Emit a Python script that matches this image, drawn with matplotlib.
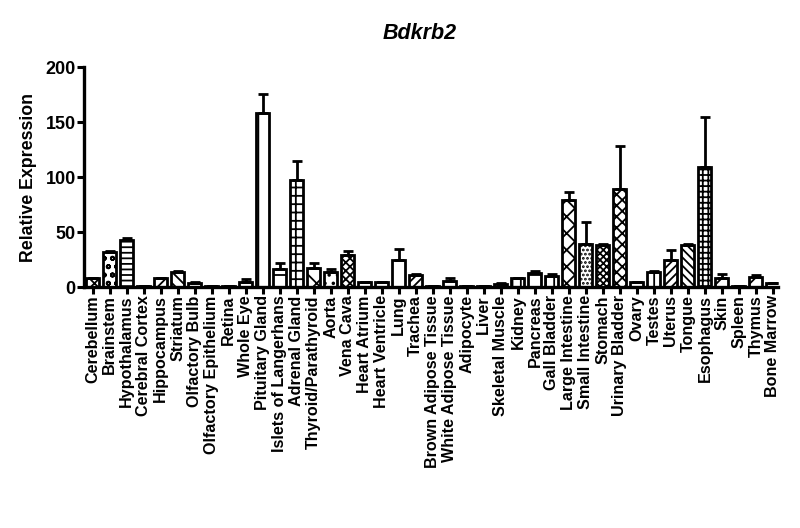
import matplotlib
matplotlib.use("Agg")
import matplotlib.pyplot as plt
import numpy as np

categories = ["Cerebellum", "Brainstem", "Hypothalamus", "Cerebral Cortex", "Hippocampus",
              "Striatum", "Olfactory Bulb", "Olfactory Epithelium", "Retina", "Whole Eye",
              "Pituitary Gland", "Islets of Langerhans", "Adrenal Gland", "Thyroid/Parathyroid",
              "Aorta", "Vena Cava", "Heart Atrium", "Heart Ventricle", "Lung", "Trachea",
              "Brown Adipose Tissue", "White Adipose Tissue", "Adipocyte", "Liver",
              "Skeletal Muscle", "Kidney", "Pancreas", "Gall Bladder", "Large Intestine",
              "Small Intestine", "Stomach", "Urinary Bladder", "Ovary", "Testes", "Uterus",
              "Tongue", "Esophagus", "Skin", "Spleen", "Thymus", "Bone Marrow"]

values = [8, 32, 43, 0.5, 8, 14, 3.5, 0.5, 0.5, 4.5,
          158.5, 16.5, 97.5, 17.5, 13.5, 29.5, 4.5, 5, 25, 11,
          0.5, 5.5, 0.5, 0.5, 3, 8, 12.5, 10, 79.5,
          39, 38.5, 89, 4.5, 14, 25, 38, 109, 8, 0.5, 9, 3.5]

errors = [0.5, 0.5, 2, 0, 0.5, 0.5, 1.5, 0, 0, 2.5,
          17, 5.5, 17, 4, 3, 3, 0.5, 0, 10, 0.5,
          0, 3, 0, 0, 0.5, 0.3, 2, 1.5, 6.5,
          20, 0.3, 39, 0.3, 0.3, 8.5, 1, 46, 3.5, 0, 2, 0.5]

hatches = ["xxx", "oo", "---", "", "///", "\\\\\\", "", "", "", "",
           "|", "-", "++", "x", "..", "xxxx", "-", "", "|", "////",
           "", "+", "", "", "", "||", "+", "||", "xx",
           "....", "xxxxx", "xxx", "-", "||", "////", "\\\\\\\\", "+++", "//", "", "//", ""]

plt.rcParams['font.family'] = ['Liberation Sans', 'DejaVu Sans']
plt.rcParams['hatch.linewidth'] = 1.3

fig = plt.figure(figsize=(8, 5.28), dpi=100)
ax = fig.add_axes([0.105, 0.4564, 0.8675, 0.4167])

x = np.arange(len(categories))
bars = ax.bar(x, values, width=0.76, color="white", edgecolor="black", linewidth=2.0)
for b, h in zip(bars, hatches):
    b.set_hatch(h)

ax.errorbar(x, values, yerr=[np.zeros(len(errors)), errors], fmt="none",
            ecolor="black", elinewidth=2.0, capsize=3.5, capthick=2.0)

ax.set_xlim(-0.52, 40.3)
ax.set_ylim(0, 200)
ax.set_yticks([0, 50, 100, 150, 200])
ax.set_xticks(x)
ax.set_xticklabels(categories, rotation=90, fontsize=11.6, fontweight="bold")
for lab in ax.get_yticklabels():
    lab.set_fontweight("bold")
    lab.set_fontsize(13)

for s in ["top", "right"]:
    ax.spines[s].set_visible(False)
for s in ["left", "bottom"]:
    ax.spines[s].set_linewidth(2.4)

ax.tick_params(axis="both", length=5, width=2.2, pad=1)
ax.set_ylabel("Relative Expression", fontsize=12.8, fontweight="bold", labelpad=6)
ax.set_title("Bdkrb2", fontsize=15.5, fontweight="bold", fontstyle="italic", pad=20, x=0.483)

fig.savefig("out.png", dpi=100)
